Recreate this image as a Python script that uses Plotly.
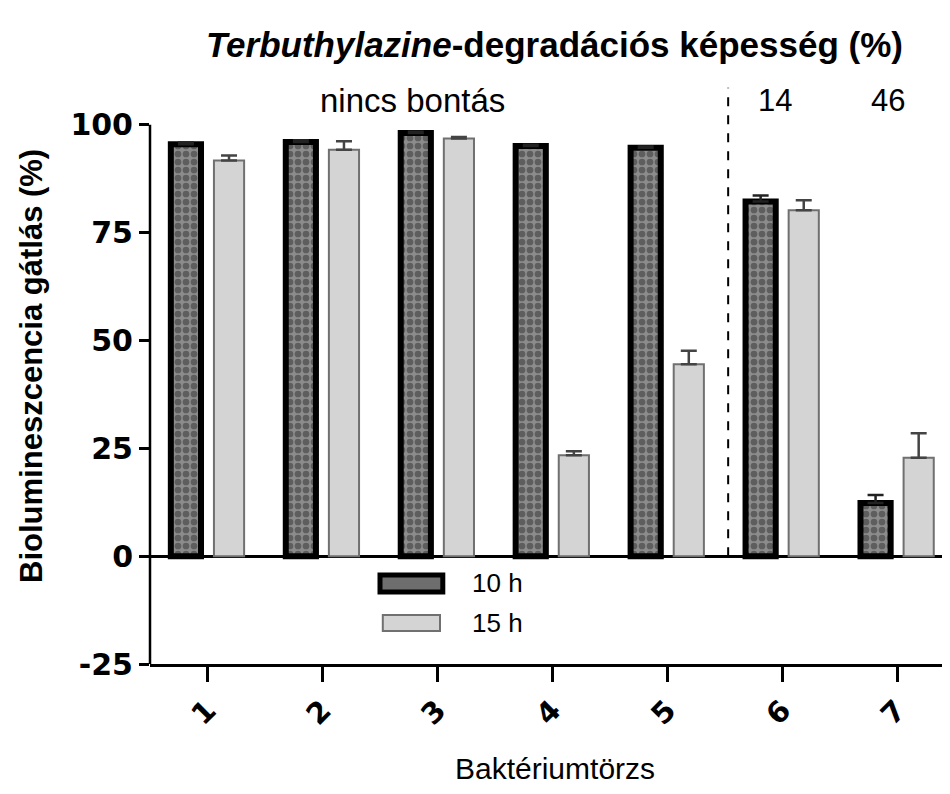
import plotly.graph_objects as go

strains = ["1", "2", "3", "4", "5", "6", "7"]
h10 = [95.5, 96.0, 98.1, 95.1, 94.7, 82.2, 12.3]
h10_err = [0.4, 0.4, 0.3, 0.3, 0.3, 1.4, 1.9]
h15 = [91.7, 94.2, 96.8, 23.4, 44.5, 80.2, 22.8]
h15_err = [1.2, 2.0, 0.4, 0.9, 3.1, 2.3, 5.7]
labels = ["10 h", "15 h"]
degr = ["nincs bontás", "14", "46"]

ARIAL = "Liberation Sans, Arial"

fig = go.Figure()
fig.add_trace(go.Bar(
    x=strains, y=h10, name=labels[0], showlegend=False,
    marker=dict(color="#8a8a8a", line=dict(color="black", width=6),
                pattern=dict(shape=".", fgcolor="#303030", bgcolor="#8c8c8c",
                             size=8, solidity=0.55)),
    error_y=dict(type="data", array=h10_err, arrayminus=[0] * 7, symmetric=False,
                 color="#222222", thickness=2.5, width=8),
))
fig.add_trace(go.Bar(
    x=strains, y=h15, name=labels[1], showlegend=False,
    marker=dict(color="#d4d4d4", line=dict(color="#707070", width=2)),
    error_y=dict(type="data", array=h15_err, arrayminus=[0] * 7, symmetric=False,
                 color="#444444", thickness=2.5, width=8),
))

fig.update_layout(
    width=942, height=778,
    margin=dict(l=142, r=0, t=78, b=122),
    paper_bgcolor="white", plot_bgcolor="white",
    barmode="group", bargap=0.25, bargroupgap=0.3,
    showlegend=False,
    xaxis=dict(type="category", range=[-0.5, 6.46], showgrid=False,
               showline=True, linecolor="black", linewidth=2.5,
               ticks="outside", ticklen=15, tickwidth=2.5, tickcolor="black",
               tickangle=-45, tickfont=dict(family="DejaVu Sans", size=29, color="black"),
               tickvals=strains, ticktext=["<b>%s</b>" % s for s in strains]),
    yaxis=dict(range=[-25, 109], tickvals=[-25, 0, 25, 50, 75, 100],
               ticktext=["<b>-25</b>", "<b>0</b>", "<b>25</b>", "<b>50</b>", "<b>75</b>", "<b>100</b>"],
               showgrid=False, showline=False,
               zeroline=True, zerolinecolor="black", zerolinewidth=2.5,
               ticks="outside", ticklen=10, tickwidth=2.5, tickcolor="black",
               tickfont=dict(family="DejaVu Sans", size=30, color="black")),
)

shapes = [
    dict(type="line", xref="paper", yref="y", x0=0, x1=0, y0=-25, y1=100,
         line=dict(color="black", width=2.5)),
    dict(type="line", xref="x", yref="y", x0=4.53, x1=4.53, y0=0, y1=108.6,
         line=dict(color="black", width=2, dash="dash")),
    dict(type="rect", xref="paper", yref="paper", x0=0.2875, x1=0.366, y0=0.1246, y1=0.154,
         fillcolor="#6e6e6e", line=dict(color="black", width=5)),
    dict(type="rect", xref="paper", yref="paper", x0=0.291, x1=0.3625, y0=0.0571, y1=0.0848,
         fillcolor="#d4d4d4", line=dict(color="#707070", width=2)),
]
fig.update_layout(shapes=shapes)

def a(text, x, y, size, xref="paper", yref="paper", xanchor="center", **kw):
    return dict(text=text, xref=xref, yref=yref, x=x, y=y, showarrow=False,
                xanchor=xanchor, yanchor="middle",
                font=dict(family=ARIAL, size=size, color="black"), **kw)

ann = [
    a("<b><i>Terbuthylazine</i>-degradációs képesség (%)</b>", 0.506, 1.071, 35),
    a(degr[0], 1.78, 105.6, 33, xref="x", yref="y"),
    a(degr[1], 4.94, 105.6, 31, xref="x", yref="y"),
    a(degr[2], 5.92, 105.6, 31, xref="x", yref="y"),
    a("<b>Biolumineszcencia gátlás (%)</b>", -0.148, 0.515, 31, textangle=-90),
    a("Baktériumtörzs", 0.506, -0.18, 30),
    a(labels[0], 0.40, 0.140, 26, xanchor="left"),
    a(labels[1], 0.40, 0.071, 26, xanchor="left"),
]
fig.update_layout(annotations=ann)

fig.write_html("out.html")
